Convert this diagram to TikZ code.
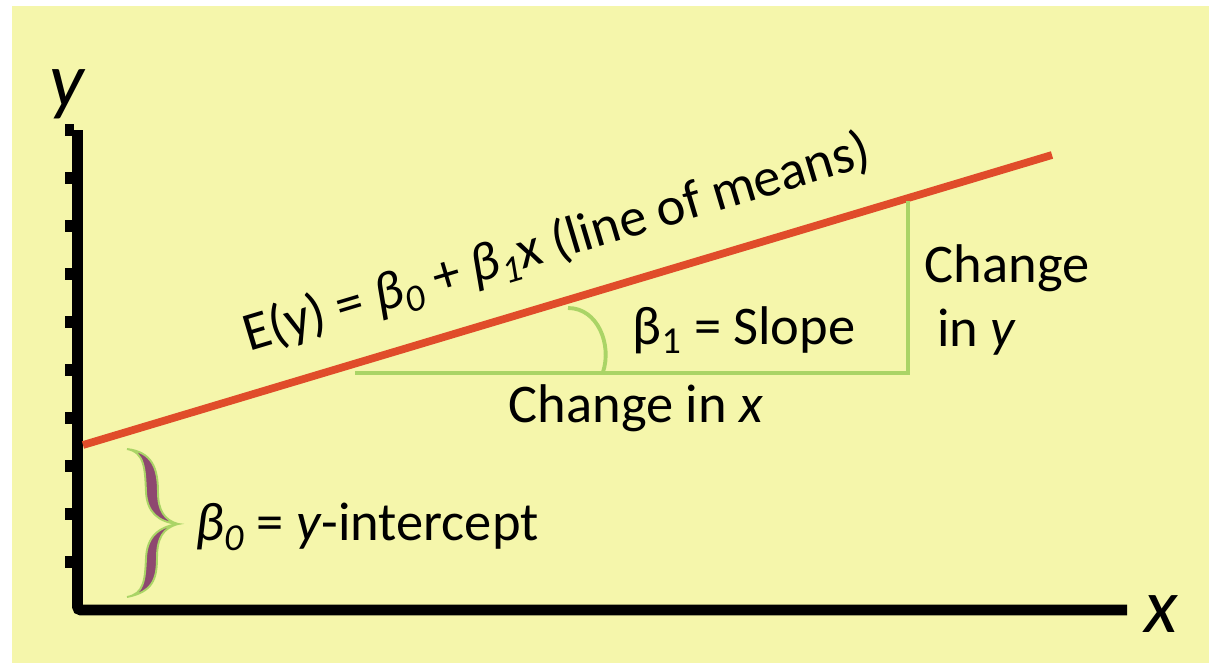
\documentclass[tikz,border=0pt]{standalone}
\usepackage{fontspec}
\setmainfont{Carlito}
\definecolor{bgyellow}{RGB}{245,246,171}
\definecolor{meanred}{RGB}{224,76,42}
\definecolor{guidegreen}{RGB}{170,212,102}
\definecolor{bracepurple}{RGB}{142,72,112}
\tikzset{
  axisline/.style={line width=6.2pt, black, rounded corners=2pt},
  ytick/.style={line width=6.6pt, black},
  meanline/.style={line width=4.4pt, meanred},
  guide/.style={line width=2.2pt, guidegreen},
  lbl/.style={font=\fontsize{31}{36}\selectfont, inner sep=0pt},
  axlbl/.style={font=\fontsize{44}{50}\selectfont\itshape, inner sep=0pt},
}

\begin{document}
\begin{tikzpicture}[x=0.02cm, y=-0.02cm]
    \useasboundingbox (0,0) rectangle (1209,663);
    \fill[bgyellow] (12,6) rectangle (1209,663);
    % axes
    \coordinate (ytop) at (77.5,130);
    \coordinate (origin) at (77.5,610);
    \coordinate (xend) at (1127,610);
    \foreach \ty in {130,178,...,562}
      \draw[ytick] (65,\ty) -- (74,\ty);
    \draw[axisline] (ytop) -- (origin) -- (xend);
    \node[axlbl] (ylbl) at (67,94) {y};
    \node[axlbl] (xlbl) at (1161,614) {x};
    % line of means
    \coordinate (icpt) at (83,445);
    \coordinate (lend) at (1052,155);
    \draw[meanline] (icpt) -- (lend);
    \node[lbl, rotate=16.66] (eq) at (557,244) {E(y) = \textit{β\textsubscript{0}} + \textit{β\textsubscript{1}}x (line of means)};
    % slope triangle
    \coordinate (runstart) at (355,373);
    \coordinate (corner) at (908,373);
    \coordinate (risetop) at (908,201);
    \draw[guide] (runstart) -- (corner) -- (risetop);
    \coordinate (arcstart) at (568,308);
    \coordinate (arcend) at (603,372);
    \draw[guide] (arcstart) .. controls (598,308) and (612,345) .. (arcend);
    \node[lbl] (slope) at (744,330) {β\textsubscript{1} = Slope};
    \node[lbl] (dx) at (636,408) {Change in \textit{x}};
    \node[lbl, align=left] (dy) at (1007,300) {Change\\\ in \textit{y}};
    % intercept brace
    \filldraw[fill=bracepurple, draw=guidegreen, line width=1.1pt]
      (127,449) .. controls (145,452) and (145,470) .. (146,492)
      .. controls (147,512) and (158,522) .. (178,524)
      .. controls (158,527) and (147,537) .. (146,558)
      .. controls (145,580) and (144,594) .. (127,597)
      .. controls (152,592) and (157,580) .. (157,558)
      .. controls (157,538) and (163,528) .. (178,524)
      .. controls (164,520) and (158,510) .. (158,492)
      .. controls (158,468) and (152,452) .. (127,449) -- cycle;
    \node[lbl, anchor=west] (icptlbl) at (195,527) {\textit{β\textsubscript{0}} = \textit{y}-intercept};
  \end{tikzpicture}
\end{document}
